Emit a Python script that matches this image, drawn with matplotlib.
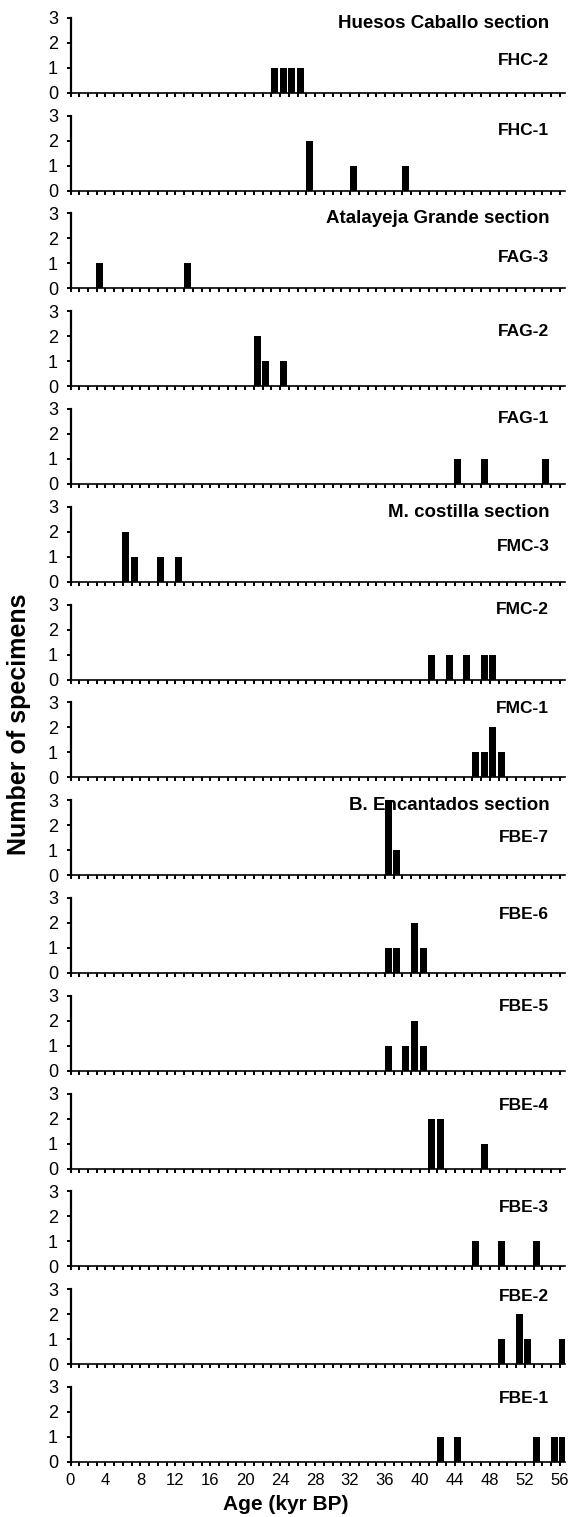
import matplotlib
matplotlib.use("Agg")
import matplotlib.pyplot as plt
from matplotlib.ticker import MultipleLocator

plt.rcParams['font.family'] = ['Liberation Sans', 'DejaVu Sans']

# Panel names, top to bottom
panel_names = ["FHC-2", "FHC-1", "FAG-3", "FAG-2", "FAG-1", "FMC-3", "FMC-2", "FMC-1",
               "FBE-7", "FBE-6", "FBE-5", "FBE-4", "FBE-3", "FBE-2", "FBE-1"]

# Section titles (shown above the first panel of each section)
section_titles = {"FHC-2": "Huesos Caballo section",
                  "FAG-3": "Atalayeja Grande section",
                  "FMC-3": "M. costilla section",
                  "FBE-7": "B. Encantados section"}

# Ages (kyr BP) and number of specimens for each level
ages_fhc2 = [23, 24, 25, 26]
counts_fhc2 = [1, 1, 1, 1]
ages_fhc1 = [27, 32, 38]
counts_fhc1 = [2, 1, 1]
ages_fag3 = [3, 13]
counts_fag3 = [1, 1]
ages_fag2 = [21, 22, 24]
counts_fag2 = [2, 1, 1]
ages_fag1 = [44, 47, 54]
counts_fag1 = [1, 1, 1]
ages_fmc3 = [6, 7, 10, 12]
counts_fmc3 = [2, 1, 1, 1]
ages_fmc2 = [41, 43, 45, 47, 48]
counts_fmc2 = [1, 1, 1, 1, 1]
ages_fmc1 = [46, 47, 48, 49]
counts_fmc1 = [1, 1, 2, 1]
ages_fbe7 = [36, 37]
counts_fbe7 = [3, 1]
ages_fbe6 = [36, 37, 39, 40]
counts_fbe6 = [1, 1, 2, 1]
ages_fbe5 = [36, 38, 39, 40]
counts_fbe5 = [1, 1, 2, 1]
ages_fbe4 = [41, 42, 47]
counts_fbe4 = [2, 2, 1]
ages_fbe3 = [46, 49, 53]
counts_fbe3 = [1, 1, 1]
ages_fbe2 = [49, 51, 52, 56]
counts_fbe2 = [1, 2, 1, 1]
ages_fbe1 = [42, 44, 53, 55, 56]
counts_fbe1 = [1, 1, 1, 1, 1]

y_ticks = [0, 1, 2, 3]
x_tick_labels = [0, 4, 8, 12, 16, 20, 24, 28, 32, 36, 40, 44, 48, 52, 56]


def main():
    series = [(ages_fhc2, counts_fhc2), (ages_fhc1, counts_fhc1), (ages_fag3, counts_fag3),
              (ages_fag2, counts_fag2), (ages_fag1, counts_fag1), (ages_fmc3, counts_fmc3),
              (ages_fmc2, counts_fmc2), (ages_fmc1, counts_fmc1), (ages_fbe7, counts_fbe7),
              (ages_fbe6, counts_fbe6), (ages_fbe5, counts_fbe5), (ages_fbe4, counts_fbe4),
              (ages_fbe3, counts_fbe3), (ages_fbe2, counts_fbe2), (ages_fbe1, counts_fbe1)]

    # height (in data units) of each panel label
    label_y = [1.3, 2.4, 1.25, 2.2, 2.6, 1.4, 2.8, 2.75, 1.5, 2.35, 2.55, 2.5, 2.35, 2.7, 2.55]

    W, H = 568, 1517
    fig = plt.figure(figsize=(W / 100, H / 100), dpi=100)

    left_px, right_px = 70.5, 565
    first_zero, step, panel_h = 92.7, 97.8, 75.0

    for i, name in enumerate(panel_names):
        ages, counts = series[i]
        y0 = first_zero + step * i
        ax = fig.add_axes([left_px / W, 1 - y0 / H, (right_px - left_px) / W, panel_h / H])

        ax.bar([a + 0.35 for a in ages], counts, width=0.8, color='black', linewidth=0, zorder=3)

        ax.set_xlim(0, 56.6)
        ax.set_ylim(0, 3)
        ax.spines['top'].set_visible(False)
        ax.spines['right'].set_visible(False)
        ax.spines['left'].set_linewidth(1.6)
        ax.spines['bottom'].set_linewidth(1.2)

        ax.set_yticks(y_ticks)
        ax.set_yticklabels([str(v) for v in y_ticks], fontsize=13)
        ax.xaxis.set_major_locator(MultipleLocator(4))
        ax.xaxis.set_minor_locator(MultipleLocator(1))
        ax.tick_params(axis='y', direction='out', length=3, width=1.4, pad=6)
        ax.tick_params(axis='x', which='both', direction='out', length=3, width=1.4, pad=5)

        if i == len(panel_names) - 1:
            ax.set_xticks(x_tick_labels)
            ax.set_xticklabels([str(v) for v in x_tick_labels], fontsize=12)
        else:
            ax.tick_params(axis='x', labelbottom=False)

        # panel name and section title
        ax.text(54.8, label_y[i], name, ha='right', va='center', fontsize=12.5,
                fontweight='bold', zorder=2)
        if name in section_titles:
            ax.text(54.8, 2.78, section_titles[name], ha='right', va='center',
                    fontsize=13.5, fontweight='bold', zorder=2)

    fig.text(19 / W, 1 - 724 / H, "Number of specimens", rotation=90, ha='center', va='center',
             fontsize=18, fontweight='bold')
    fig.text(286 / W, 1 - 1504 / H, "Age (kyr BP)", ha='center', va='center',
             fontsize=15, fontweight='bold')

    fig.savefig("out.png", dpi=100)


if __name__ == "__main__":
    main()
